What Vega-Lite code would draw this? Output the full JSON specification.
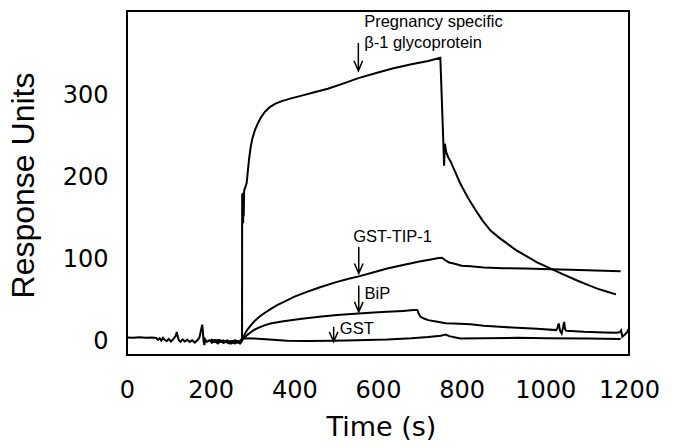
{
  "$schema": "https://vega.github.io/schema/vega-lite/v6.json",
  "width": 502,
  "height": 344,
  "autosize": {"type": "none"},
  "padding": {"left": 127, "top": 11, "right": 56, "bottom": 93},
  "background": "white",
  "config": {"view": {"stroke": "black", "strokeWidth": 2}, "font": "DejaVu Sans"},
  "datasets": {
    "curves": [
      {"s":"P","t":0,"v":1.5},{"s":"P","t":15,"v":1.2},{"s":"P","t":30,"v":1.6},{"s":"P","t":45,"v":1.0},{"s":"P","t":60,"v":1.3},{"s":"P","t":70,"v":0.8},{"s":"P","t":74,"v":-1.5},{"s":"P","t":78,"v":0.5},{"s":"P","t":82,"v":-2.5},{"s":"P","t":86,"v":1},{"s":"P","t":90,"v":-1.5},{"s":"P","t":95,"v":-3},{"s":"P","t":100,"v":-0.5},{"s":"P","t":105,"v":-3.5},{"s":"P","t":110,"v":-1},{"s":"P","t":114,"v":1.5},{"s":"P","t":117,"v":4},{"s":"P","t":119,"v":8},{"s":"P","t":121,"v":3},{"s":"P","t":124,"v":-2},{"s":"P","t":128,"v":-4},{"s":"P","t":133,"v":-1},{"s":"P","t":138,"v":-3.5},{"s":"P","t":144,"v":-1.5},{"s":"P","t":150,"v":-4},{"s":"P","t":156,"v":-2},{"s":"P","t":162,"v":-5},{"s":"P","t":168,"v":-2},{"s":"P","t":173,"v":1},{"s":"P","t":176,"v":8},{"s":"P","t":178,"v":13},{"s":"P","t":180,"v":17},{"s":"P","t":181.5,"v":8},{"s":"P","t":183,"v":-3},{"s":"P","t":185,"v":-8},{"s":"P","t":187,"v":-1},{"s":"P","t":191,"v":-4},{"s":"P","t":197,"v":-2},{"s":"P","t":203,"v":-5},{"s":"P","t":210,"v":-3},{"s":"P","t":217,"v":-6},{"s":"P","t":224,"v":-3},{"s":"P","t":231,"v":-5},{"s":"P","t":238,"v":-4},{"s":"P","t":245,"v":-6},{"s":"P","t":252,"v":-3},{"s":"P","t":259,"v":-5},{"s":"P","t":265,"v":-4},{"s":"P","t":270,"v":-6},{"s":"P","t":273,"v":-3},{"s":"P","t":275,"v":-1},{"s":"P","t":275.3,"v":177},{"s":"P","t":276,"v":145},{"s":"P","t":277,"v":178},{"s":"P","t":277.6,"v":141},{"s":"P","t":278.3,"v":175},{"s":"P","t":279,"v":150},{"s":"P","t":280,"v":181},{"s":"P","t":283,"v":185},{"s":"P","t":286,"v":190},{"s":"P","t":289,"v":205},{"s":"P","t":292,"v":220},{"s":"P","t":296,"v":235},{"s":"P","t":300,"v":245},{"s":"P","t":306,"v":255},{"s":"P","t":313,"v":263},{"s":"P","t":320,"v":270},{"s":"P","t":330,"v":277},{"s":"P","t":342,"v":283},{"s":"P","t":355,"v":287},{"s":"P","t":370,"v":290},{"s":"P","t":390,"v":293},{"s":"P","t":420,"v":297},{"s":"P","t":450,"v":301},{"s":"P","t":480,"v":305},{"s":"P","t":520,"v":312},{"s":"P","t":553,"v":318},{"s":"P","t":600,"v":325},{"s":"P","t":637,"v":330},{"s":"P","t":680,"v":335},{"s":"P","t":720,"v":339},{"s":"P","t":749,"v":343},{"s":"P","t":752,"v":300},{"s":"P","t":756,"v":242},{"s":"P","t":758,"v":211},{"s":"P","t":760,"v":238},{"s":"P","t":763,"v":228},{"s":"P","t":768,"v":221},{"s":"P","t":773,"v":217},{"s":"P","t":785,"v":203},{"s":"P","t":797,"v":189},{"s":"P","t":815,"v":172},{"s":"P","t":833,"v":157},{"s":"P","t":850,"v":144},{"s":"P","t":869,"v":132},{"s":"P","t":890,"v":123},{"s":"P","t":909,"v":116},{"s":"P","t":930,"v":108},{"s":"P","t":957,"v":100},{"s":"P","t":980,"v":93},{"s":"P","t":1004,"v":87.6},{"s":"P","t":1040,"v":79},{"s":"P","t":1076,"v":71},{"s":"P","t":1100,"v":66},{"s":"P","t":1124,"v":61},{"s":"P","t":1150,"v":57},{"s":"P","t":1169,"v":54},
      {"s":"T","t":200,"v":-2},{"s":"T","t":210,"v":-4},{"s":"T","t":220,"v":-2.5},{"s":"T","t":230,"v":-5},{"s":"T","t":240,"v":-3},{"s":"T","t":250,"v":-6},{"s":"T","t":258,"v":-3.5},{"s":"T","t":265,"v":-5},{"s":"T","t":271,"v":-3},{"s":"T","t":276,"v":1},{"s":"T","t":281,"v":5},{"s":"T","t":287,"v":10.4},{"s":"T","t":295,"v":15.5},{"s":"T","t":303,"v":20.5},{"s":"T","t":315,"v":26},{"s":"T","t":327,"v":30.7},{"s":"T","t":343,"v":36},{"s":"T","t":359,"v":41},{"s":"T","t":380,"v":46},{"s":"T","t":399,"v":51},{"s":"T","t":430,"v":57},{"s":"T","t":463,"v":63},{"s":"T","t":500,"v":69},{"s":"T","t":530,"v":73},{"s":"T","t":554,"v":76},{"s":"T","t":590,"v":81},{"s":"T","t":622,"v":85.6},{"s":"T","t":660,"v":90},{"s":"T","t":702,"v":94.5},{"s":"T","t":730,"v":97},{"s":"T","t":745,"v":98.5},{"s":"T","t":753,"v":98.8},{"s":"T","t":760,"v":96},{"s":"T","t":770,"v":93},{"s":"T","t":781,"v":91.7},{"s":"T","t":800,"v":89},{"s":"T","t":821,"v":88.4},{"s":"T","t":853,"v":86.8},{"s":"T","t":900,"v":86},{"s":"T","t":950,"v":85.5},{"s":"T","t":1012,"v":84.8},{"s":"T","t":1060,"v":84},{"s":"T","t":1100,"v":83.5},{"s":"T","t":1140,"v":83},{"s":"T","t":1180,"v":82.3},
      {"s":"B","t":200,"v":-3},{"s":"B","t":210,"v":-1.5},{"s":"B","t":220,"v":-4},{"s":"B","t":230,"v":-2},{"s":"B","t":240,"v":-5},{"s":"B","t":250,"v":-3},{"s":"B","t":258,"v":-6},{"s":"B","t":265,"v":-3},{"s":"B","t":272,"v":-5},{"s":"B","t":277,"v":-1},{"s":"B","t":282,"v":2},{"s":"B","t":287,"v":4.3},{"s":"B","t":295,"v":7.5},{"s":"B","t":303,"v":10.4},{"s":"B","t":315,"v":13.5},{"s":"B","t":330,"v":16.5},{"s":"B","t":343,"v":18.5},{"s":"B","t":370,"v":21},{"s":"B","t":400,"v":23},{"s":"B","t":423,"v":24.6},{"s":"B","t":460,"v":26.8},{"s":"B","t":502,"v":28.7},{"s":"B","t":554,"v":30.7},{"s":"B","t":590,"v":31.8},{"s":"B","t":622,"v":32.7},{"s":"B","t":660,"v":33.8},{"s":"B","t":685,"v":34.8},{"s":"B","t":694,"v":35},{"s":"B","t":697,"v":31},{"s":"B","t":701,"v":27},{"s":"B","t":710,"v":24.5},{"s":"B","t":720,"v":22.6},{"s":"B","t":742,"v":20.5},{"s":"B","t":762,"v":18.8},{"s":"B","t":781,"v":18.5},{"s":"B","t":821,"v":17.5},{"s":"B","t":853,"v":15.6},{"s":"B","t":900,"v":14.2},{"s":"B","t":933,"v":13.2},{"s":"B","t":980,"v":12},{"s":"B","t":1026,"v":10.4},{"s":"B","t":1029,"v":13},{"s":"B","t":1032,"v":18.5},{"s":"B","t":1035,"v":10},{"s":"B","t":1039,"v":6.3},{"s":"B","t":1042,"v":13},{"s":"B","t":1045,"v":20.5},{"s":"B","t":1047,"v":12},{"s":"B","t":1050,"v":9.5},{"s":"B","t":1092,"v":8.3},{"s":"B","t":1140,"v":7.6},{"s":"B","t":1172,"v":7.1},{"s":"B","t":1178,"v":8},{"s":"B","t":1181,"v":10},{"s":"B","t":1184,"v":2.2},{"s":"B","t":1188,"v":4},{"s":"B","t":1192,"v":6},{"s":"B","t":1196,"v":8.3},{"s":"B","t":1199,"v":12},
      {"s":"G","t":200,"v":-1},{"s":"G","t":210,"v":-3},{"s":"G","t":220,"v":-1.5},{"s":"G","t":230,"v":-4},{"s":"G","t":240,"v":-2},{"s":"G","t":250,"v":-4.5},{"s":"G","t":258,"v":-2},{"s":"G","t":265,"v":-4},{"s":"G","t":272,"v":-2},{"s":"G","t":280,"v":0.5},{"s":"G","t":303,"v":0.2},{"s":"G","t":340,"v":-1},{"s":"G","t":383,"v":-2.7},{"s":"G","t":430,"v":-3},{"s":"G","t":494,"v":-2.7},{"s":"G","t":550,"v":-2},{"s":"G","t":622,"v":-1},{"s":"G","t":680,"v":0.5},{"s":"G","t":720,"v":2},{"s":"G","t":750,"v":3.5},{"s":"G","t":762,"v":5},{"s":"G","t":770,"v":3},{"s":"G","t":797,"v":0.2},{"s":"G","t":850,"v":0.3},{"s":"G","t":933,"v":1},{"s":"G","t":1000,"v":0.5},{"s":"G","t":1100,"v":0},{"s":"G","t":1180,"v":-0.6}
    ],
    "arrows": [
      {"a":"A1","i":0,"t":553,"v":361},{"a":"A1","i":1,"t":553,"v":327},{"a":"A1","i":2,"t":542.7,"v":339.2},{"a":"A1","i":3,"t":553,"v":327},{"a":"A1","i":4,"t":563.3,"v":339.2},
      {"a":"A2","i":0,"t":554,"v":112},{"a":"A2","i":1,"t":554,"v":79.5},{"a":"A2","i":2,"t":543.7,"v":91.7},{"a":"A2","i":3,"t":554,"v":79.5},{"a":"A2","i":4,"t":564.3,"v":91.7},
      {"a":"A3","i":0,"t":554,"v":65},{"a":"A3","i":1,"t":554,"v":32.7},{"a":"A3","i":2,"t":543.7,"v":44.9},{"a":"A3","i":3,"t":554,"v":32.7},{"a":"A3","i":4,"t":564.3,"v":44.9},
      {"a":"A4","i":0,"t":494,"v":14.4},{"a":"A4","i":1,"t":494,"v":-3.9},{"a":"A4","i":2,"t":483.7,"v":8.3},{"a":"A4","i":3,"t":494,"v":-3.9},{"a":"A4","i":4,"t":504.3,"v":8.3}
    ],
    "labels": [
      {"t":567,"v":386.6,"label":"Pregnancy specific"},
      {"t":567,"v":360.4,"label":"β-1 glycoprotein"},
      {"t":540.7,"v":124,"label":"GST-TIP-1"},
      {"t":567.7,"v":55,"label":"BiP"},
      {"t":508.7,"v":11.2,"label":"GST"}
    ],
    "xticks": [
      {"t":50,"k":"minor"},{"t":100,"k":"minor"},{"t":150,"k":"minor"},{"t":200,"k":"major"},{"t":250,"k":"minor"},{"t":300,"k":"minor"},{"t":350,"k":"minor"},{"t":400,"k":"major"},{"t":450,"k":"minor"},{"t":500,"k":"minor"},{"t":550,"k":"minor"},{"t":600,"k":"major"},{"t":650,"k":"minor"},{"t":700,"k":"minor"},{"t":750,"k":"minor"},{"t":800,"k":"major"},{"t":850,"k":"minor"},{"t":900,"k":"minor"},{"t":950,"k":"minor"},{"t":1000,"k":"major"},{"t":1050,"k":"minor"},{"t":1100,"k":"minor"},{"t":1150,"k":"minor"}
    ],
    "yticks": [
      {"v":0,"k":"major"},{"v":20,"k":"minor"},{"v":40,"k":"minor"},{"v":60,"k":"minor"},{"v":80,"k":"minor"},{"v":100,"k":"major"},{"v":120,"k":"minor"},{"v":140,"k":"minor"},{"v":160,"k":"minor"},{"v":180,"k":"minor"},{"v":200,"k":"major"},{"v":220,"k":"minor"},{"v":240,"k":"minor"},{"v":260,"k":"minor"},{"v":280,"k":"minor"},{"v":300,"k":"major"},{"v":320,"k":"minor"},{"v":340,"k":"minor"},{"v":360,"k":"minor"},{"v":380,"k":"minor"}
    ]
  },
  "encoding": {
    "x": {
      "field": "t", "type": "quantitative",
      "scale": {"domain": [0, 1200], "nice": false, "zero": false},
      "axis": {
        "title": "Time (s)",
        "tickCount": 6,
        "labelExpr": "'' + datum.value",
        "ticks": false,
        "domain": false, "grid": false,
        "labelFont": "DejaVu Sans", "labelFontSize": 24, "labelColor": "black",
        "labelPadding": 23, "labelFlush": false, "labelOverlap": false,
        "titleFont": "DejaVu Sans", "titleFontSize": 27, "titleFontWeight": "normal", "titleColor": "black",
        "titleX": 254, "titleY": 80, "titleBaseline": "alphabetic", "titleAlign": "center"
      }
    },
    "y": {
      "field": "v", "type": "quantitative",
      "scale": {"domain": [-20, 400], "nice": false, "zero": false},
      "axis": {
        "title": "Response Units",
        "tickCount": 21,
        "labelExpr": "datum.value % 100 === 0 && datum.value >= 0 && datum.value < 400 ? '' + datum.value : ''",
        "ticks": false,
        "domain": false, "grid": false,
        "labelFont": "DejaVu Sans", "labelFontSize": 24, "labelColor": "black",
        "labelPadding": 19, "labelOverlap": false, "labelFlush": false, "labelOffset": 3,
        "titleFont": "Liberation Sans", "titleFontSize": 32, "titleFontWeight": "normal", "titleColor": "black",
        "titleX": -94, "titleY": 174, "titleAngle": 270, "titleBaseline": "alphabetic", "titleAlign": "center"
      }
    }
  },
  "layer": [
    {
      "data": {"name": "xticks"},
      "transform": [{"filter": "datum.k === 'major'"}],
      "mark": {"type": "tick", "orient": "vertical", "color": "black", "opacity": 1, "size": 8, "thickness": 1.5},
      "encoding": {"y": {"datum": -15.12, "type": "quantitative"}}
    },
    {
      "data": {"name": "xticks"},
      "transform": [{"filter": "datum.k === 'minor'"}],
      "mark": {"type": "tick", "orient": "vertical", "color": "black", "opacity": 1, "size": 5, "thickness": 1.5},
      "encoding": {"y": {"datum": -16.95, "type": "quantitative"}}
    },
    {
      "data": {"name": "yticks"},
      "transform": [{"filter": "datum.k === 'major'"}],
      "mark": {"type": "tick", "orient": "horizontal", "color": "black", "opacity": 1, "size": 8, "thickness": 1.5},
      "encoding": {"x": {"datum": 9.56, "type": "quantitative"}}
    },
    {
      "data": {"name": "yticks"},
      "transform": [{"filter": "datum.k === 'minor'"}],
      "mark": {"type": "tick", "orient": "horizontal", "color": "black", "opacity": 1, "size": 5, "thickness": 1.5},
      "encoding": {"x": {"datum": 5.98, "type": "quantitative"}}
    },
    {
      "data": {"name": "curves"},
      "mark": {"type": "line", "color": "black", "strokeWidth": 2},
      "encoding": {"detail": {"field": "s"}}
    },
    {
      "data": {"name": "arrows"},
      "mark": {"type": "line", "color": "black", "strokeWidth": 1.5},
      "encoding": {"detail": {"field": "a"}, "order": {"field": "i"}}
    },
    {
      "data": {"name": "labels"},
      "mark": {"type": "text", "align": "left", "baseline": "middle", "font": "Liberation Sans", "fontSize": 16.5, "color": "black"},
      "encoding": {"text": {"field": "label"}}
    }
  ]
}
